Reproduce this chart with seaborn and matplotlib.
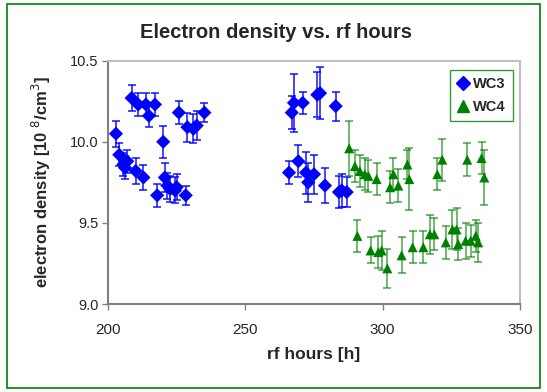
import numpy as np
import pandas as pd
import matplotlib
matplotlib.use("Agg")
import matplotlib.pyplot as plt
import seaborn as sns
from matplotlib.patches import Rectangle
from matplotlib.lines import Line2D

# ---- data ----
wc3_hours = [202.9, 204.1, 205.6, 206.2, 207.0, 208.6, 210.1, 211.0, 212.9, 213.8,
             214.9, 217.1, 217.9, 220.1, 220.7, 221.6, 222.6, 224.4, 225.0, 225.8,
             228.3, 228.9, 231.1, 232.3, 235.1,
             265.9, 266.9, 267.7, 269.3, 270.9, 272.1, 272.9, 275.0, 276.2, 277.2,
             279.0, 282.9, 284.1, 285.1, 286.9]
wc3_density = [10.05, 9.92, 9.86, 9.84, 9.88, 10.27, 9.82, 10.23, 9.78, 10.23,
               10.16, 10.23, 9.67, 10.00, 9.78, 9.73, 9.71, 9.70, 9.72, 10.18,
               9.67, 10.09, 10.08, 10.10, 10.18,
               9.81, 10.18, 10.24, 9.88, 10.24, 9.81, 9.75, 9.80, 10.29, 10.30,
               9.73, 10.22, 9.69, 9.70, 9.69]
wc3_err = [0.08, 0.07, 0.07, 0.07, 0.07, 0.08, 0.08, 0.07, 0.08, 0.07,
           0.07, 0.07, 0.07, 0.10, 0.09, 0.08, 0.08, 0.08, 0.08, 0.07,
           0.06, 0.09, 0.09, 0.09, 0.06,
           0.07, 0.10, 0.18, 0.10, 0.07, 0.13, 0.12, 0.12, 0.14, 0.16,
           0.11, 0.09, 0.10, 0.10, 0.09]

wc4_hours = [287.8, 289.9, 290.8, 291.7, 293.5, 294.8, 295.6, 297.8, 298.4, 299.6,
             301.7, 302.7, 303.9, 305.7, 306.9, 309.0, 309.7, 310.9, 314.8, 317.2,
             318.8, 319.9, 321.7, 323.0, 325.4, 326.9, 327.5, 330.2, 330.8, 332.0,
             333.9, 334.8, 336.0, 337.0]
wc4_density = [9.96, 9.85, 9.42, 9.82, 9.80, 9.79, 9.33, 9.77, 9.32, 9.33,
               9.22, 9.72, 9.80, 9.73, 9.30, 9.86, 9.77, 9.35, 9.35, 9.43,
               9.43, 9.80, 9.89, 9.38, 9.46, 9.46, 9.37, 9.39, 9.89, 9.39,
               9.42, 9.38, 9.90, 9.78]
wc4_err = [0.17, 0.10, 0.10, 0.10, 0.10, 0.10, 0.08, 0.10, 0.10, 0.12,
           0.12, 0.10, 0.10, 0.10, 0.11, 0.09, 0.19, 0.10, 0.10, 0.12,
           0.10, 0.10, 0.13, 0.10, 0.12, 0.13, 0.10, 0.11, 0.10, 0.10,
           0.10, 0.12, 0.10, 0.17]

series_names = ["WC3", "WC4"]
x_ticks = [200, 250, 300, 350]
y_ticks = [9.0, 9.5, 10.0, 10.5]

BLUE = "#0000FF"
GREEN = "#008000"

df = pd.DataFrame({
    "hours": wc3_hours + wc4_hours,
    "density": wc3_density + wc4_density,
    "err": wc3_err + wc4_err,
    "series": [series_names[0]] * len(wc3_hours) + [series_names[1]] * len(wc4_hours),
})

sns.set_style("white")
plt.rcParams["font.family"] = ["Liberation Sans", "DejaVu Sans"]

fig = plt.figure(figsize=(5.47, 3.92), dpi=100)
ax = fig.add_axes([108 / 547, 1 - 304 / 392, (520 - 108) / 547, (304 - 60.7) / 392])

palette = {"WC3": BLUE, "WC4": GREEN}
markers = {"WC3": "D", "WC4": "^"}

for name in series_names:
    sub = df[df["series"] == name]
    ax.errorbar(sub["hours"], sub["density"], yerr=sub["err"], fmt="none",
                ecolor=palette[name], elinewidth=1.2, capsize=3.2, capthick=1.2,
                alpha=0.85 if name == "WC3" else 0.65, zorder=2)

sns.scatterplot(data=df, x="hours", y="density", hue="series", style="series",
                palette=palette, markers=markers, s=52, edgecolor="none",
                ax=ax, legend=False, zorder=3)

ax.set_xlim(200, 350)
ax.set_ylim(9.0, 10.5)
ax.set_xticks(x_ticks)
ax.set_yticks(y_ticks)
ax.set_xticklabels([str(t) for t in x_ticks], fontsize=11)
ax.set_yticklabels([f"{t:.1f}" for t in y_ticks], fontsize=10.5)
ax.tick_params(axis="both", direction="out", length=4, width=1, color="#808080",
               pad=3, bottom=True, left=True)
ax.tick_params(axis="x", pad=10)

for side in ["left", "bottom"]:
    ax.spines[side].set_color("#808080")
    ax.spines[side].set_linewidth(1.5)
for side in ["top", "right"]:
    ax.spines[side].set_color("#BFBFBF")
    ax.spines[side].set_linewidth(1.5)

ax.set_xlabel("rf hours [h]", fontsize=12.5, fontweight="bold", labelpad=7)
ax.set_ylabel("electron density [10 $^{8}$/cm$^{3}$]", fontsize=12,
              fontweight="bold", labelpad=12)
fig.text(276 / 547, 1 - 33 / 392, "Electron density vs. rf hours", ha="center",
         va="center", fontsize=14.5, fontweight="bold")

handles = [Line2D([], [], marker=markers[n], color=palette[n], linestyle="none",
                  markersize=8 if n == "WC4" else 7) for n in series_names]
leg = ax.legend(handles, series_names, loc="upper right",
                bbox_to_anchor=((513 - 108) / 412, (304 - 70) / 243.3),
                frameon=True, fancybox=False, handlelength=0.8, handletextpad=0.3,
                borderpad=0.5, labelspacing=0.6, prop={"weight": "bold", "size": 10.5},
                borderaxespad=0)
leg.get_frame().set_edgecolor(GREEN)
leg.get_frame().set_linewidth(1.0)

fig.patches.append(Rectangle((7 / 547, 4 / 392), (540 - 7) / 547, (388 - 4) / 392,
                             transform=fig.transFigure, fill=False,
                             edgecolor=GREEN, linewidth=1.2))

fig.savefig("out.png", dpi=100)
